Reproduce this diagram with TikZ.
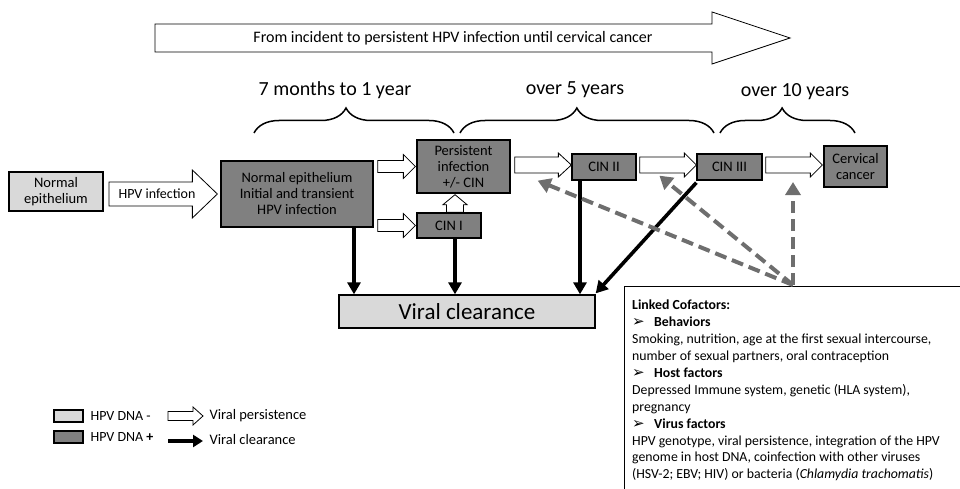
\documentclass[tikz,border=0pt]{standalone}
\usepackage{fontspec}
\setmainfont{Carlito}
\newfontfamily\dejavu{DejaVu Sans}
\usetikzlibrary{arrows.meta,calc,decorations.pathreplacing}
\definecolor{lightbox}{HTML}{D9D9D9}
\definecolor{darkbox}{HTML}{808080}
\definecolor{dashgray}{HTML}{6E6E6E}
\tikzset{
 box/.style={draw=black,line width=1.3pt,align=center,inner sep=1pt,font=\fontsize{14.5}{16}\selectfont},
 lightb/.style={box,fill=lightbox},
 darkb/.style={box,fill=darkbox},
 clear/.style={line width=3.6pt,-{Triangle[length=12pt,width=13pt]}},
 cofac/.style={line width=4pt,dashgray,dash pattern=on 12pt off 6pt,-{Triangle[length=13pt,width=15pt]}},
 blockarr/.style={draw=black,fill=white,line width=0.8pt},
 bracestyle/.style={decorate,decoration={brace,amplitude=25pt,aspect=0.46},line width=1.5pt},
 lbl/.style={font=\fontsize{20}{22}\selectfont},
}
\newcommand\bulletarrow{\makebox[22pt][l]{\dejavu\fontsize{15}{17}\selectfont ➢}}
% horizontal block arrow: start, end, body half, head half, head length
\newcommand\harr[5]{%
 \path[blockarr] let \p1=(#1), \p2=(#2) in
 ({\x1},{\y2+#3}) -- ({\x2-#5},{\y2+#3}) -- ({\x2-#5},{\y2+#4}) -- ({\x2},{\y2})
 -- ({\x2-#5},{\y2-#4}) -- ({\x2-#5},{\y2-#3}) -- ({\x1},{\y2-#3}) -- cycle;}
% vertical (upward) block arrow
\newcommand\varr[5]{%
 \path[blockarr] let \p1=(#1), \p2=(#2) in
 ({\x2+#3},{\y1}) -- ({\x2+#3},{\y2-#5}) -- ({\x2+#4},{\y2-#5}) -- ({\x2},{\y2})
 -- ({\x2-#4},{\y2-#5}) -- ({\x2-#3},{\y2-#5}) -- ({\x2-#3},{\y1}) -- cycle;}
\begin{document}
\begin{tikzpicture}[x=1pt,y=-1pt]
\useasboundingbox (0,0) rectangle (960,489);

% top timeline arrow
\coordinate (tas) at (155,38);
\coordinate (tae) at (790,38);
\harr{tas}{tae}{14pt}{26pt}{78pt}
\node[font=\fontsize{16}{18}\selectfont] (ttl) at (453,38) {From incident to persistent HPV infection until cervical cancer};

% durations
\node[lbl] (d1) at (335,90) {7 months to 1 year};
\node[lbl] (d2) at (575,90) {over 5 years};
\node[lbl] (d3) at (795,92) {over 10 years};
\draw[bracestyle] (254,133) -- (454,133);
\draw[bracestyle] (460,133) -- (714,133);
\draw[bracestyle] (720,133) -- (855,133);

% boxes
\node[lightb,minimum width=94,minimum height=39] (ne) at (56,191.5) {Normal\\epithelium};
\node[darkb,minimum width=152,minimum height=66] (ie) at (297,194) {Normal epithelium\\Initial and transient\\HPV infection};
\node[darkb,minimum width=93,minimum height=53] (pi) at (463.5,166.5) {Persistent\\infection\\+/- CIN};
\node[darkb,minimum width=64,minimum height=25] (c1) at (449,225.5) {CIN I};
\node[darkb,minimum width=64,minimum height=26] (c2) at (604,167) {CIN II};
\node[darkb,minimum width=65,minimum height=26] (c3) at (729.5,167) {CIN III};
\node[darkb,minimum width=63,minimum height=41] (cc) at (855.5,166.5) {Cervical\\cancer};
\node[lightb,minimum width=256,minimum height=33,font=\fontsize{23}{25}\selectfont] (vc) at (467,311.5) {Viral clearance};

% persistence arrows
\coordinate (hs) at (109,194);
\coordinate (he) at ($(ie.west |- hs)+(-3,0)$);
\harr{hs}{he}{12pt}{24pt}{25pt}
\node[font=\fontsize{14}{16}\selectfont] (hl) at (157,194) {HPV infection};
\harr{$(ie.east |- pi.west)+(4,0)$}{$(pi.west)+(-1,0)$}{6pt}{12pt}{12pt}
\harr{$(ie.east |- c1.west)+(4,0)$}{$(c1.west)+(-1,0)$}{6pt}{12pt}{12pt}
\varr{$(c1.north -| 455,0)$}{$(pi.south -| 455,0)+(0,1)$}{8.5pt}{12pt}{10pt}
\harr{$(pi.east |- c2.west)+(4,-2)$}{$(c2.west)+(0,-2)$}{8pt}{12pt}{13pt}
\harr{$(c2.east)+(3,-2)$}{$(c3.west)+(0,-2)$}{8pt}{12pt}{12pt}
\harr{$(c3.east)+(3,-2)$}{$(cc.west |- c3.east)+(-1,-2)$}{8pt}{12pt}{12pt}

% clearance arrows
\draw[clear] (ie.south -| 354,0) -- (vc.north -| 354,0);
\draw[clear] (c1.south -| 455,0) -- (vc.north -| 455,0);
\draw[clear] (c2.south -| 580,0) -- (vc.north -| 580,0);
\draw[clear] ($(c3.south west)+(0,2)$) -- ($(vc.north east)+(0,-1)$);

% cofactors box
\begin{scope}
\clip (0,0) rectangle (960,489);
\draw[line width=0.8pt,fill=white] (624,286) rectangle (980,520);
\end{scope}
\coordinate (cof) at (793,285);
\draw[cofac] (cof) -- ($(pi.south east)+(27,-13)$);
\draw[cofac] (cof) -- ($(c3.south west)+(-37,-5)$);
\draw[cofac] (cof) -- (793,182);
\node[anchor=north west,inner sep=0,align=left,font=\fontsize{13.8}{16.9}\selectfont] (cft) at (632,300) {%
\textbf{Linked Cofactors:}\\
\bulletarrow\textbf{Behaviors}\\
Smoking, nutrition, age at the first sexual intercourse,\\
number of sexual partners, oral contraception\\
\bulletarrow\textbf{Host factors}\\
Depressed Immune system, genetic (HLA system),\\
pregnancy\\
\bulletarrow\textbf{Virus factors}\\
HPV genotype, viral persistence, integration of the HPV\\
genome in host DNA, coinfection with other viruses\\
(HSV-2; EBV; HIV) or bacteria (\textit{Chlamydia trachomatis})};

% legend
\node[lightb,minimum width=29,minimum height=12,inner sep=0] (lg1) at (68.5,416) {};
\node[darkb,minimum width=29,minimum height=12,inner sep=0] (lg2) at (68.5,437) {};
\node[anchor=west,font=\fontsize{14}{16}\selectfont] (lt1) at (87,416) {HPV DNA -};
\node[anchor=west,font=\fontsize{14}{16}\selectfont] (lt2) at (87,437) {HPV DNA \textbf{+}};
\coordinate (la1) at (168,416);
\coordinate (lb1) at (203,416);
\harr{la1}{lb1}{4.5pt}{9pt}{10pt}
\coordinate (la2) at (168,441);
\coordinate (lb2) at (203,441);
\draw[line width=4pt,-{Triangle[length=10pt,width=12pt]}] (la2) -- (lb2);
\node[anchor=west,font=\fontsize{14.5}{16}\selectfont] (lt3) at (206,416) {Viral persistence};
\node[anchor=west,font=\fontsize{14.5}{16}\selectfont] (lt4) at (206,440) {Viral clearance};
\end{tikzpicture}
\end{document}
